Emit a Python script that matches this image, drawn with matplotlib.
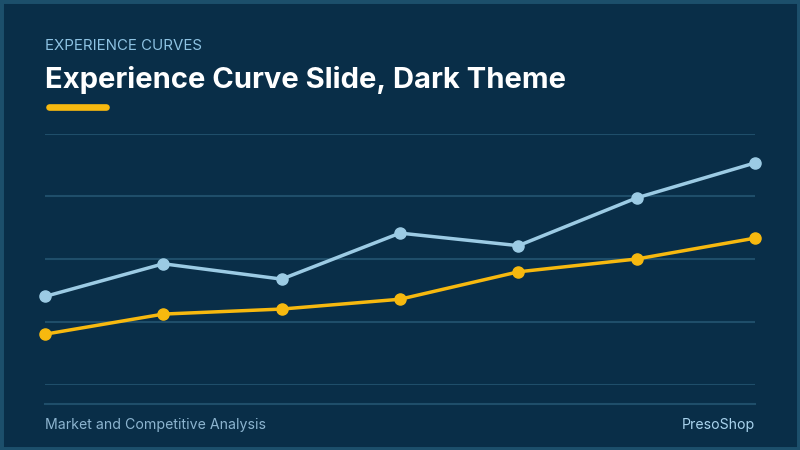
import matplotlib.pyplot as plt
from matplotlib.patches import Rectangle

# data
periods = [1, 2, 3, 4, 5, 6, 7]
series_blue = [35.2, 48.2, 42.1, 60.4, 55.4, 74.4, 88.3]
series_gold = [20.2, 28.2, 30.2, 34.1, 45.0, 50.1, 58.4]
y_ticks = [0, 25, 50, 75, 100]

bg = '#092e48'
frame = '#1c4f6b'
grid = '#1f4e6a'
blue = '#9ccbe4'
gold = '#f7b90f'

fig = plt.figure(figsize=(8, 4.5), dpi=100, facecolor=bg)

# outer frame
fig.patches.append(Rectangle((0, 0), 1, 1, transform=fig.transFigure,
                             fill=False, edgecolor=frame, linewidth=5))

ax = fig.add_axes([45 / 800, 1 - 385 / 450, 710 / 800, 251.5 / 450])
ax.set_facecolor(bg)
ax.set_xlim(periods[0], periods[-1])
ax.set_ylim(0, 100)
ax.set_yticks(y_ticks)
ax.grid(axis='y', color=grid, linewidth=1.5)
ax.set_axisbelow(True)
ax.tick_params(left=False, bottom=False, labelleft=False, labelbottom=False)
for s in ax.spines.values():
    s.set_visible(False)

ax.plot(periods, series_gold, color=gold, lw=2.5, marker='o', ms=8, clip_on=False, zorder=3)
ax.plot(periods, series_blue, color=blue, lw=2.5, marker='o', ms=8, clip_on=False, zorder=3)

# header
fig.text(45 / 800, 1 - 46 / 450, 'EXPERIENCE CURVES', color='#8ec3e3',
         fontsize=10.8, family='Inter', va='center')
fig.text(45 / 800, 1 - 80 / 450, 'Experience Curve Slide, Dark Theme', color='white',
         fontsize=21, family='Inter', fontweight='bold', va='center')
fig.add_artist(plt.Line2D([48.5 / 800, 105.5 / 800], [1 - 106.5 / 450] * 2, color=gold,
                          lw=4.8, solid_capstyle='round'))

# footer
fig.add_artist(plt.Line2D([45 / 800, 755 / 800], [1 - 404 / 450] * 2, color=grid, lw=1.5))
fig.text(45 / 800, 1 - 425 / 450, 'Market and Competitive Analysis', color='#8cb4cf',
         fontsize=10.2, family='Inter', va='center')
fig.text(755 / 800, 1 - 425 / 450, 'PresoShop', color='#a8d2ec',
         fontsize=10.2, family='Inter', va='center', ha='right')

fig.savefig('out.png', dpi=100, facecolor=bg)
